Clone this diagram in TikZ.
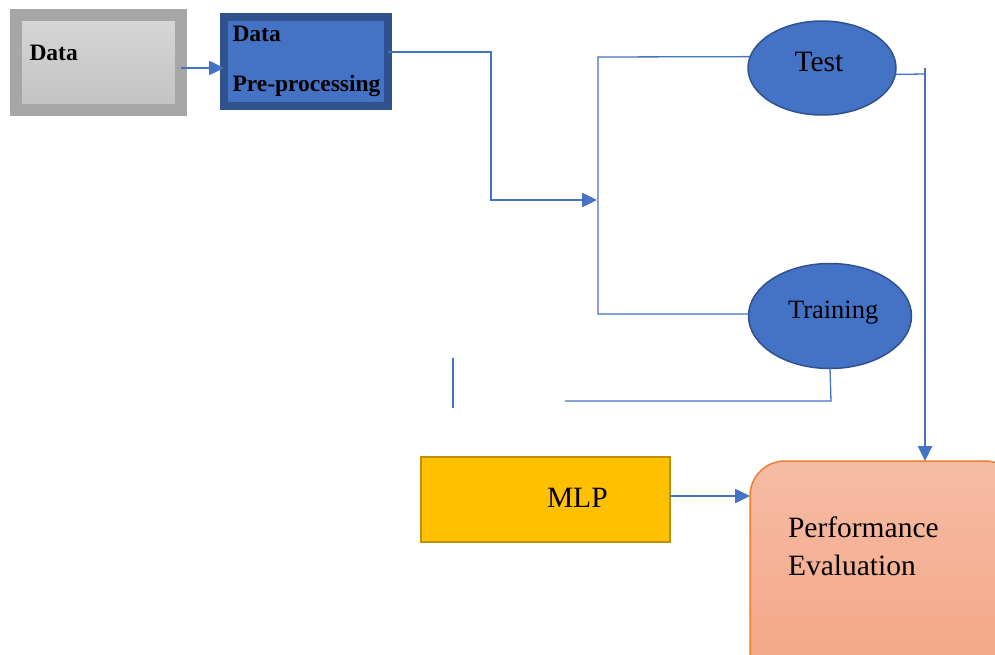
\documentclass[tikz,border=0pt]{standalone}
\usepackage{fontspec}
\setmainfont{Liberation Serif}
\usetikzlibrary{arrows.meta,shapes.geometric}
\definecolor{lblue}{HTML}{4472C4}
\definecolor{dblue}{HTML}{2F528F}
\definecolor{mgray}{HTML}{A6A6A6}
\definecolor{gold}{HTML}{FFC000}
\definecolor{dgold}{HTML}{BF9000}
\definecolor{orng}{HTML}{ED7D31}
\tikzset{
  every node/.style={inner sep=0pt,outer sep=0pt},
  bigtxt/.style={font=\fontsize{29.5}{34}\selectfont,anchor=base west},
  midtxt/.style={font=\fontsize{26.5}{31}\selectfont,anchor=base west},
  boldtxt/.style={font=\fontsize{23.5}{28}\selectfont\bfseries,anchor=base west},
  databox/.style={draw=mgray,line width=12pt,top color=black!16,bottom color=black!24,minimum width=165pt,minimum height=95pt},
  prepbox/.style={draw=dblue,line width=8pt,fill=lblue,minimum width=164pt,minimum height=89pt},
  oval/.style={ellipse,draw=dblue,line width=1.5pt,fill=lblue},
  mlpbox/.style={draw=dgold,line width=2pt,fill=gold,minimum width=249pt,minimum height=85pt},
  perfbox/.style={draw=orng,line width=1.5pt,rounded corners=35pt,top color={rgb,255:red,245;green,188;blue,164},bottom color={rgb,255:red,244;green,164;blue,130},minimum width=270pt,minimum height=240pt,anchor=north west},
  thickline/.style={draw=lblue,line width=2.5pt},
  thinline/.style={draw=lblue,line width=1.3pt},
  tip/.style={-{Triangle[length=15pt,width=14pt]}}
}
\begin{document}
\begin{tikzpicture}[x=1pt,y=-1pt]
\useasboundingbox (0,0) rectangle (995,655);
\clip (0,0) rectangle (995,655);
% boxes
\node[databox] (data) at (98.5,62.5) {};
\node[boldtxt] (datatxt) at (29.5,61) {Data};
\node[prepbox] (prep) at (306,61.5) {};
\node[boldtxt] (preptxt1) at (232.5,42) {Data};
\node[boldtxt] (preptxt2) at (232.5,92) {Pre-processing};
\node[oval,minimum width=148pt,minimum height=94pt] (test) at (822,68) {};
\node[bigtxt] (testtxt) at (794.5,72) {Test};
\node[oval,minimum width=163pt,minimum height=105pt] (train) at (830,316) {};
\node[midtxt] (traintxt) at (788,318) {Training};
\node[mlpbox] (mlp) at (545.5,499.5) {};
\node[bigtxt] (mlptxt) at (547,507.5) {MLP};
\node[perfbox] (perf) at (750,461) {};
\node[bigtxt] (perftxt1) at (788,537) {Performance};
\node[bigtxt] (perftxt2) at (788,575) {Evaluation};
% helper coordinates
\coordinate (r68) at (0,68);
\coordinate (r52) at (0,52);
\coordinate (bend1) at (491,52);
\coordinate (bend2) at (491,200);
\coordinate (split) at (597,200);
\coordinate (btop) at (598,57);
\coordinate (bbot) at (598,314);
\coordinate (tr) at (925,74);
\coordinate (vtop) at (925,68);
\coordinate (trb) at (831,401);
\coordinate (trl) at (565,401);
\coordinate (s1) at (453,358);
\coordinate (s2) at (453,408);
\coordinate (m496) at (0,496);
% connectors
\draw[thickline,tip] (data.east |- r68) -- (prep.west |- r68);
\draw[thickline,tip] (prep.east |- r52) -- (bend1) -- (bend2) -- (split);
\draw[thinline] (test.171) -- (btop) -- (bbot) -- (train.west |- bbot);
\draw[thinline] (test.-5) -- (tr);
\draw[thickline,tip] (vtop) -- (vtop |- perf.north);
\draw[thinline] (train.south) -- (trb) -- (trl);
\draw[thinline] (s1) -- (s2);
\draw[thickline,tip] (mlp.east |- m496) -- (perf.west |- m496);
\end{tikzpicture}
\end{document}
